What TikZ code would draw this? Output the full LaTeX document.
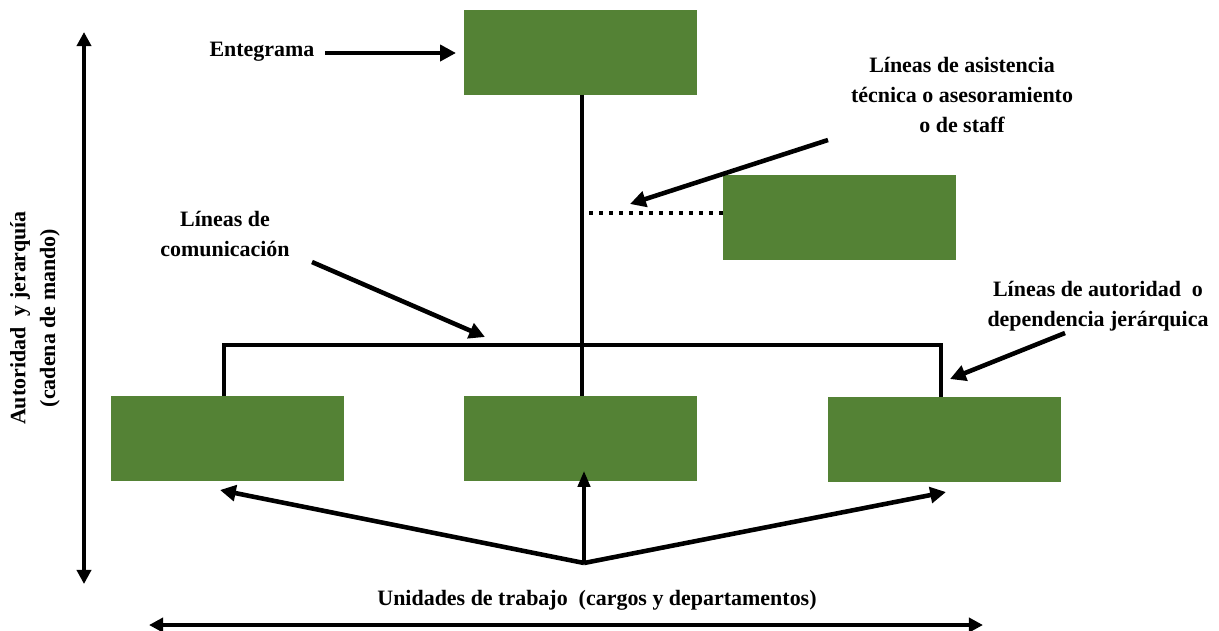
\documentclass[tikz,border=0pt]{standalone}
\usepackage{fontspec}
\setmainfont{Liberation Serif}
\usetikzlibrary{arrows.meta}
\definecolor{unitgreen}{HTML}{548235}
\begin{document}
\begin{tikzpicture}[x=0.02cm,y=-0.02cm,
  unit/.style={draw=none,fill=unitgreen,minimum width=233*0.02cm,minimum height=85*0.02cm,inner sep=0pt,outer sep=0pt},
  lbl/.style={font=\bfseries\fontsize{12.5}{17}\selectfont,align=center,inner sep=0pt},
  tie/.style={line width=2.8pt},
  pointer/.style={line width=2.6pt,-{Triangle[length=9pt,width=9pt]}},
  thinpointer/.style={line width=1.9pt,-{Triangle[length=9pt,width=7pt]}},
  axis/.style={line width=2pt,{Triangle[length=8pt,width=8pt]}-{Triangle[length=8pt,width=8pt]}}]
\useasboundingbox (0,0) rectangle (1219,630);

% green units
\node[unit] (top)   at (580.5,52) {};
\node[unit] (staff) at (839.5,217.5) {};
\node[unit] (bl)    at (227,438.5) {};
\node[unit] (bc)    at (580.5,438.5) {};
\node[unit] (br)    at (944,439.5) {};

% hierarchy lines
\coordinate (jl) at (224,345);
\coordinate (jr) at (941,345);
\draw[tie] (top.south -| 582,0) -- (bc.north -| 582,0);
\draw[line width=2.4pt] (bl.north -| jl) -- (jl) -- (jr) -- (br.north -| jr);
\coordinate (sj) at (589,213);
\draw[line width=2.4pt,dash pattern=on 2.4pt off 3.3pt] (staff.west |- sj) -- (sj);

% labels
\node[lbl] (lent) at (262,52) {Entegrama};
\node[lbl] (lstaff) at (962,95) {Líneas de asistencia\\técnica o asesoramiento\\o de staff};
\node[lbl] (lcom) at (225,234) {Líneas de\\comunicación};
\node[lbl] (laut) at (1098,306) {Líneas de autoridad\ \ o\\dependencia jerárquica};
\node[lbl] (lunits) at (597,600) {Unidades\ de\ trabajo\ \ (cargos y departamentos)};
\node[lbl,rotate=90] (lchain) at (35,318) {Autoridad\ \ y\ jerarquía\\(cadena de mando)};

% pointers
\coordinate (p1a) at (325,53);
\coordinate (p1b) at (456,53);
\draw[pointer] (p1a) -- (p1b);
\coordinate (p2a) at (828,140);
\coordinate (p2b) at (630,204);
\draw[pointer] (p2a) -- (p2b);
\coordinate (p3a) at (312,262);
\coordinate (p3b) at (485,337);
\draw[pointer] (p3a) -- (p3b);
\coordinate (p4a) at (1065,333);
\coordinate (p4b) at (950,379);
\draw[pointer] (p4a) -- (p4b);

% unit pointers from a common origin
\coordinate (hub) at (584,563);
\draw[pointer] (hub) -- (220,490);
\draw[thinpointer] (hub) -- (584,471);
\draw[pointer] (hub) -- (946,492);

% axes
\coordinate (va) at (84,32);
\coordinate (vb) at (84,584);
\draw[axis] (va) -- (vb);
\coordinate (ha) at (149,625);
\coordinate (hb) at (983,625);
\draw[axis] (ha) -- (hb);
\end{tikzpicture}
\end{document}
